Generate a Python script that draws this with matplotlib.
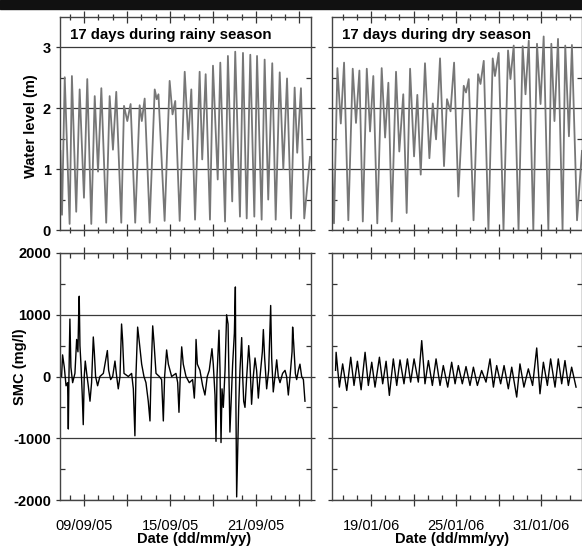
import numpy as np
import pandas as pd
import matplotlib
matplotlib.use("Agg")
import matplotlib.pyplot as plt
import matplotlib.dates as mdates
from matplotlib.patches import Rectangle

plt.rcParams['font.family'] = ['Liberation Sans', 'DejaVu Sans']

# ---- water level, rainy season (day of Sept 2005, metres) ----
rainy_wl_day = [7.36, 7.47, 7.66, 8.00, 8.16, 8.46, 8.70, 9.00, 9.23, 9.51, 9.75, 9.98,
                10.21, 10.55, 10.79, 11.02, 11.25, 11.60, 11.79, 12.02, 12.25, 12.57,
                12.88, 13.03, 13.23, 13.58, 13.93, 14.07, 14.19, 14.62, 14.97, 15.17,
                15.36, 15.67, 16.02, 16.27, 16.48, 16.74, 17.06, 17.24, 17.48, 17.78,
                17.99, 18.32, 18.50, 18.83, 19.03, 19.33, 19.54, 19.87, 20.08, 20.34,
                20.59, 20.87, 21.06, 21.38, 21.59, 21.84, 22.12, 22.36, 22.64, 22.89,
                23.15, 23.43, 23.68, 23.86, 24.12, 24.35, 24.75]
rainy_wl = [1.3, 0.25, 2.51, 0.10, 2.53, 0.30, 2.31, 0.53, 2.48, 0.10, 2.20, 0.96,
            2.33, 0.12, 2.20, 1.32, 2.27, 0.12, 2.04, 1.79, 2.07, 0.12, 2.05, 1.79,
            2.16, 0.12, 2.31, 2.15, 2.23, 0.15, 2.45, 1.90, 2.12, 0.15, 2.60, 1.49,
            2.31, 0.17, 2.60, 1.16, 2.56, 0.17, 2.70, 0.83, 2.75, 0.14, 2.86, 0.47,
            2.93, 0.22, 2.91, 0.19, 2.88, 0.22, 2.86, 0.17, 2.80, 0.50, 2.74, 0.17,
            2.59, 1.00, 2.49, 0.19, 2.34, 1.27, 2.33, 0.19, 1.2]

# ---- water level, dry season (day of Jan 2006, >31 runs into Feb) ----
dry_wl_day = [16.25, 16.39, 16.63, 16.87, 17.10, 17.40, 17.71, 17.94, 18.18, 18.42,
              18.70, 18.93, 19.16, 19.44, 19.75, 19.99, 20.22, 20.46, 20.76, 20.99,
              21.27, 21.51, 21.75, 22.03, 22.26, 22.50, 22.80, 23.11, 23.35, 23.58,
              23.86, 24.14, 24.35, 24.60, 24.85, 25.15, 25.53, 25.69, 25.88, 26.22,
              26.54, 26.71, 26.94, 27.27, 27.57, 27.73, 27.99, 28.33, 28.65, 28.82,
              29.05, 29.39, 29.68, 29.88, 30.11, 30.43, 30.69, 30.94, 31.16, 31.49,
              31.70, 31.92, 32.17, 32.49, 32.68, 32.94, 33.15, 33.51, 33.86]
dry_wl = [1.2, 0.11, 2.66, 1.75, 2.75, 0.16, 2.65, 1.76, 2.62, 0.14, 2.65, 1.62,
          2.53, 0.11, 2.66, 1.52, 2.42, 0.14, 2.60, 1.29, 2.23, 0.28, 2.65, 1.21,
          2.22, 0.91, 2.74, 1.18, 2.08, 1.49, 2.82, 1.05, 2.15, 1.95, 2.75, 0.55,
          2.37, 2.26, 2.48, 0.16, 2.56, 2.40, 2.78, 0.0, 2.82, 2.53, 2.91, 0.0,
          2.95, 2.48, 3.03, 0.0, 3.02, 2.23, 3.11, 0.0, 3.06, 2.07, 3.18, 0.0,
          3.06, 1.79, 3.14, 0.0, 3.03, 1.54, 3.04, 0.16, 1.3]

# ---- SMC, rainy season (mg/l) ----
rainy_smc_day = [7.44, 7.51, 7.63, 7.75, 7.86, 7.91, 7.95, 8.02, 8.09, 8.21, 8.37, 8.49,
                 8.58, 8.63, 8.67, 8.72, 8.79, 8.88, 8.95, 9.02, 9.09, 9.19, 9.30, 9.42,
                 9.53, 9.65, 9.72, 9.81, 9.95, 10.11, 10.35, 10.63, 10.72, 10.86, 11.00,
                 11.16, 11.28, 11.39, 11.51, 11.62, 11.69, 11.79, 12.09, 12.32, 12.44,
                 12.55, 12.62, 12.74, 12.86, 13.02, 13.18, 13.32, 13.48, 13.60, 13.67,
                 13.79, 13.88, 14.02, 14.25, 14.41, 14.53, 14.62, 14.76, 14.88, 15.11,
                 15.41, 15.53, 15.62, 15.71, 15.81, 15.92, 16.11, 16.34, 16.57, 16.69,
                 16.76, 16.81, 16.90, 17.08, 17.27, 17.43, 17.59, 17.73, 17.92, 18.01,
                 18.13, 18.20, 18.27, 18.41, 18.48, 18.55, 18.62, 18.71, 18.83, 18.94,
                 19.04, 19.10, 19.17, 19.27, 19.36, 19.48, 19.55, 19.59, 19.64, 19.71,
                 19.78, 19.87, 19.99, 20.06, 20.13, 20.22, 20.34, 20.48, 20.57, 20.68,
                 20.80, 20.92, 21.03, 21.15, 21.27, 21.43, 21.50, 21.59, 21.73, 21.87,
                 22.01, 22.08, 22.19, 22.31, 22.43, 22.54, 22.66, 22.84, 23.01, 23.12,
                 23.24, 23.36, 23.50, 23.54, 23.61, 23.73, 23.82, 23.94, 24.05, 24.17,
                 24.29, 24.40]
rainy_smc = [0, 350, 150, -150, -100, -850, -50, 930, 150, -100, 50, 600,
             400, 1000, 1300, 500, 200, -300, -780, 0, 250, 50, -150, -400,
             -100, 640, 400, 0, -150, 0, 50, 420, 100, -50, 0,
             250, 0, -200, 0, 850, 600, 50, 0, 50, -200,
             -960, 0, 800, 550, 200, 0, -100, -400, -720, 0,
             820, 550, 50, 0, -50, -720, 0, 430, 200, 0,
             50, -100, -580, 0, 480, 200, 0, -100, -50, -350,
             0, 600, 200, 100, -150, -300, 0, 100, 450, 200,
             -300, -1050, 0, 750, 100, -1070, -200, -500, 100, 1000,
             850, 0, -900, -300, 200, 700, 1450, -500, -1950, -1200,
             -500, 100, 630, 0, -400, -500, 0, 500, 200, -450,
             0, 300, 100, -350, 0, 400, 760, 300, -200, 100,
             1150, 300, -250, 0, 270, 0, -100, 50, 100, 0,
             -300, 0, 400, 800, 550, 50, -50, 100, 200, 0,
             -50, -400]

# ---- SMC, dry season (mg/l) ----
dry_smc_day = [16.50, 16.54, 16.77, 17.00, 17.29, 17.57, 17.80, 18.04, 18.30, 18.58,
               18.81, 19.05, 19.28, 19.59, 19.82, 20.06, 20.29, 20.57, 20.81, 21.04,
               21.32, 21.56, 21.79, 22.03, 22.33, 22.57, 22.80, 23.04, 23.32, 23.58,
               23.86, 24.09, 24.40, 24.68, 24.92, 25.15, 25.43, 25.69, 25.97, 26.21,
               26.49, 26.79, 27.10, 27.38, 27.62, 27.85, 28.13, 28.37, 28.67, 28.91,
               29.26, 29.49, 29.77, 30.08, 30.38, 30.67, 30.90, 31.14, 31.42, 31.65,
               31.96, 32.19, 32.43, 32.66, 32.90, 33.13, 33.44]
dry_smc = [100, 392, -172, 204, -226, 312, -145, 247, -215, 392,
           -145, 231, -172, 312, -118, 247, -306, 285, -145, 269,
           -118, 285, -91, 285, -91, 581, -118, 258, -145, 285,
           -145, 177, -172, 231, -118, 177, -118, 161, -145, 151,
           -145, 97, -91, 285, -172, 177, -118, 177, -199, 151,
           -333, 204, -172, 124, -145, 462, -280, 231, -145, 285,
           -172, 285, -118, 258, -145, 151, -172]

# ---- axes and ticks ----
rainy_xlim = [7.33, 24.82]
dry_xlim = [16.25, 33.86]
rainy_major_day = [9, 12, 15, 18, 21, 24]
rainy_major_lab = ['09/09/05', '', '15/09/05', '', '21/09/05', '']
dry_major_day = [19, 22, 25, 28, 31]
dry_major_lab = ['19/01/06', '', '25/01/06', '', '31/01/06']

wl_ticks = [0, 1, 2, 3]
wl_minor = [0.5, 1.5, 2.5]
smc_ticks = [-2000, -1000, 0, 1000, 2000]
smc_minor = [-1500, -500, 500, 1500]


def to_dates(month_start, days):
    return pd.Timestamp(month_start) + pd.to_timedelta(np.asarray(days, float) - 1, unit='D')


W, H = 582, 547
fig = plt.figure(figsize=(W / 100, H / 100), dpi=100)


def box(l, t, r, b):
    return [l / W, 1 - b / H, (r - l) / W, (b - t) / H]


fig.patches.append(Rectangle((0, 1 - 9 / H), 1, 9 / H, transform=fig.transFigure,
                             color='#111111', zorder=10))

ax_wl_r = fig.add_axes(box(60, 17, 311, 230))
ax_wl_d = fig.add_axes(box(332, 17, 582, 230))
ax_smc_r = fig.add_axes(box(60, 253, 311, 500))
ax_smc_d = fig.add_axes(box(332, 253, 582, 500))

wl_col = '#777777'
ax_wl_r.plot(to_dates('2005-09-01', rainy_wl_day), rainy_wl, color=wl_col, lw=1.3,
             solid_joinstyle='round')
ax_wl_d.plot(to_dates('2006-01-01', dry_wl_day), dry_wl, color=wl_col, lw=1.3,
             solid_joinstyle='round')
ax_smc_r.plot(to_dates('2005-09-01', rainy_smc_day), rainy_smc, color='black', lw=1.0)
ax_smc_d.plot(to_dates('2006-01-01', dry_smc_day), dry_smc, color='black', lw=1.0)

panels = [
    (ax_wl_r, '2005-09-01', rainy_xlim, rainy_major_day, rainy_major_lab, True, True),
    (ax_wl_d, '2006-01-01', dry_xlim, dry_major_day, dry_major_lab, False, True),
    (ax_smc_r, '2005-09-01', rainy_xlim, rainy_major_day, rainy_major_lab, True, False),
    (ax_smc_d, '2006-01-01', dry_xlim, dry_major_day, dry_major_lab, False, False),
]

for ax, m0, xl, mdays, mlabs, left, top in panels:
    ax.set_xlim(to_dates(m0, xl))
    ax.xaxis.set_minor_locator(mdates.DayLocator())
    if top:
        ax.set_xticks(to_dates(m0, mdays), [''] * len(mdays))
        ax.tick_params(axis='x', which='both', top=True, direction='inout')
        ax.tick_params(axis='x', which='minor', length=5)
        ax.tick_params(axis='x', which='major', length=8)
        ax.set_ylim(0, 3.5)
        ax.set_yticks(wl_ticks, [str(v) for v in wl_ticks] if left else [''] * 4,
                      fontweight='bold', fontsize=10.5)
        ax.set_yticks(wl_minor, minor=True)
    else:
        ax.set_xticks(to_dates(m0, mdays), mlabs, fontsize=10.5)
        ax.tick_params(axis='x', which='minor', top=True, direction='in', length=3.5)
        ax.tick_params(axis='x', which='major', top=True, direction='inout', length=8, pad=10)
        ax.set_ylim(-2000, 2000)
        ax.set_yticks(smc_ticks, [str(v) for v in smc_ticks] if left else [''] * 5,
                      fontweight='bold', fontsize=10.5)
        ax.set_yticks(smc_minor, minor=True)
        ax.set_xlabel('Date (dd/mm/yy)', fontsize=10.5, fontweight='bold')
        ax.xaxis.set_label_coords(0.534 if left else 0.482, -0.13)
    ax.tick_params(axis='y', which='minor', left=True, right=True, direction='in', length=3.5)
    ax.tick_params(axis='y', which='major', left=True, right=True, direction='out',
                   length=3, pad=3.5)
    ax.tick_params(which='both', color='#333333', width=0.9)
    ax.grid(axis='y', which='major', color='#3a3a3a', lw=0.9)
    for s in ax.spines.values():
        s.set_color('#444444')
        s.set_linewidth(1.0)

ax_wl_r.text(0.04, 0.915, '17 days during rainy season', transform=ax_wl_r.transAxes,
             fontsize=10.8, fontweight='bold', va='center', ha='left')
ax_wl_d.text(0.039, 0.915, '17 days during dry season', transform=ax_wl_d.transAxes,
             fontsize=10.8, fontweight='bold', va='center', ha='left')

ax_wl_r.set_ylabel('Water level (m)', fontsize=10.5, fontweight='bold')
ax_wl_r.yaxis.set_label_coords(-0.088, 0.49)
ax_smc_r.set_ylabel('SMC (mg/l)', fontsize=10.5, fontweight='bold')
ax_smc_r.yaxis.set_label_coords(-0.133, 0.54)

fig.savefig('out.png', dpi=100)
